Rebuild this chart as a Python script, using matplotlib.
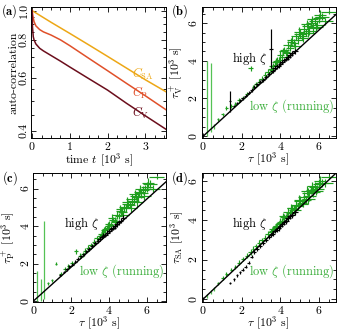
import matplotlib
matplotlib.use("Agg")
import matplotlib.pyplot as plt
from matplotlib.ticker import FixedLocator, MultipleLocator, NullFormatter, FixedFormatter

plt.rcParams['font.family'] = 'serif'
plt.rcParams['font.serif'] = ['cmr10']
plt.rcParams['mathtext.fontset'] = 'cm'
plt.rcParams['axes.formatter.use_mathtext'] = True
plt.rcParams['font.size'] = 8.5

# ---------------- panel (a): auto-correlation ----------------
t_SA = [0, 0.5, 1.0, 1.5, 2.0, 2.5, 3.0, 3.55]
C_SA = [1.0, 0.915, 0.84, 0.77, 0.705, 0.645, 0.59, 0.538]
t_P = [0, 0.02, 0.05, 0.1, 0.2, 0.3, 0.5, 0.75, 1.0, 1.5, 2.0, 2.5, 3.0, 3.55]
C_P = [1.0, 0.96, 0.92, 0.89, 0.865, 0.85, 0.83, 0.80, 0.765, 0.695, 0.632, 0.574, 0.522, 0.469]
t_V = [0, 0.01, 0.03, 0.05, 0.1, 0.2, 0.3, 0.5, 0.75, 1.0, 1.5, 2.0, 2.5, 3.0, 3.55]
C_V = [1.0, 0.88, 0.82, 0.80, 0.775, 0.75, 0.735, 0.71, 0.68, 0.65, 0.595, 0.545, 0.493, 0.448, 0.404]

# ---------------- panels (b)-(d): tau scatter ----------------
tau_g = [0.75, 1.0, 1.2, 1.45, 1.65, 1.85, 2.05, 2.25, 2.45, 2.6,
         2.75, 2.9, 3.05, 3.2, 3.35, 3.5, 3.6, 3.7, 3.8, 3.9,
         4.0, 4.1, 4.2, 4.3, 4.4, 4.5, 4.6, 4.7, 4.8, 4.9,
         5.0, 5.1, 5.2, 5.3, 5.4, 5.5, 5.6, 5.7, 5.8, 5.9,
         6.0, 6.15, 6.5,
         3.55, 3.75, 3.95, 4.15, 4.35, 4.55, 4.75, 4.95, 5.15, 5.35,
         5.45, 5.65, 5.85, 6.05, 6.3]
xerr_g = [0.05, 0.06, 0.06, 0.08, 0.08, 0.08, 0.1, 0.1, 0.12, 0.1,
          0.12, 0.12, 0.15, 0.12, 0.15, 0.15, 0.18, 0.15, 0.2, 0.18,
          0.2, 0.18, 0.22, 0.2, 0.25, 0.2, 0.25, 0.22, 0.28, 0.25,
          0.3, 0.25, 0.3, 0.28, 0.3, 0.32, 0.3, 0.35, 0.3, 0.35,
          0.3, 0.35, 0.4,
          0.15, 0.2, 0.18, 0.22, 0.25, 0.2, 0.3, 0.25, 0.3, 0.28,
          0.35, 0.3, 0.35, 0.3, 0.4]
yerr_g = [0.08, 0.1, 0.1, 0.1, 0.1, 0.12, 0.1, 0.12, 0.15, 0.12,
          0.12, 0.15, 0.12, 0.15, 0.15, 0.15, 0.18, 0.15, 0.18, 0.15,
          0.2, 0.18, 0.15, 0.2, 0.2, 0.18, 0.2, 0.22, 0.2, 0.2,
          0.22, 0.2, 0.25, 0.2, 0.22, 0.25, 0.2, 0.25, 0.22, 0.2,
          0.25, 0.2, 0.1,
          0.15, 0.18, 0.2, 0.18, 0.2, 0.22, 0.2, 0.25, 0.2, 0.22,
          0.25, 0.2, 0.22, 0.25, 0.2]
tauV_g = [0.9, 1.15, 1.5, 1.6, 1.7, 1.9, 2.05, 2.25, 3.6, 2.6,
          2.75, 2.9, 3.05, 3.25, 3.4, 3.55, 3.7, 3.8, 4.0, 4.05,
          4.3, 4.2, 4.6, 4.45, 4.85, 4.7, 5.1, 4.95, 5.3, 5.1,
          5.45, 5.3, 5.7, 5.5, 5.85, 5.6, 6.0, 5.75, 6.1, 5.9,
          6.25, 6.35, 6.6,
          3.5, 3.95, 3.95, 4.5, 4.4, 5.0, 4.8, 5.55, 5.2, 5.95,
          5.5, 6.2, 5.8, 6.45, 6.1]
tauP_g = [0.95, 1.1, 2.0, 1.45, 1.7, 1.85, 2.05, 2.65, 2.4, 2.5,
          2.7, 2.85, 3.0, 3.15, 3.35, 3.45, 3.6, 3.7, 3.85, 3.9,
          4.1, 4.05, 4.35, 4.3, 4.6, 4.55, 4.8, 4.75, 5.0, 4.95,
          5.2, 5.15, 5.45, 5.35, 5.6, 5.55, 5.8, 5.75, 5.95, 6.0,
          6.1, 6.25, 6.6,
          3.5, 3.8, 4.0, 4.45, 4.2, 4.9, 4.6, 5.3, 4.95, 5.7,
          5.3, 6.0, 5.6, 6.3, 6.0]
tauSA_g = [0.8, 1.05, 1.25, 1.5, 1.65, 1.85, 2.05, 2.2, 2.4, 2.55,
           2.7, 2.85, 3.0, 3.1, 3.3, 3.4, 3.55, 3.6, 3.7, 3.8,
           3.9, 3.95, 4.15, 4.1, 4.4, 4.35, 4.6, 4.55, 4.8, 4.7,
           5.0, 4.9, 5.2, 5.05, 5.4, 5.25, 5.55, 5.45, 5.7, 5.6,
           5.85, 5.9, 6.2,
           3.45, 3.65, 3.85, 4.2, 4.2, 4.6, 4.5, 5.05, 4.85, 5.5,
           5.1, 5.75, 5.5, 6.0, 5.9]

# low-tau running samples (large upper uncertainty in some estimators)
tau_g_low = [0.17, 0.42, 0.55]
tauV_g_low = [0.1, 0.3, 0.5]
tauV_g_low_up = [3.9, 3.6, 0.15]
tauP_g_low = [0.1, 0.1, 0.2]
tauP_g_low_up = [1.5, 1.1, 4.1]
tauSA_g_low = [0.15, 0.35, 0.5]
tauSA_g_low_up = [0.1, 0.1, 0.1]

tau_k = [1.4, 1.6, 1.75, 1.9, 2.05, 2.2, 2.35, 2.5, 2.65, 2.8,
         2.95, 3.1, 3.25, 3.4, 3.5, 3.6, 3.7, 3.8, 3.9, 4.0,
         4.1, 4.2, 4.3, 4.4, 4.5, 4.6, 4.75]
xerr_k = [0.06, 0.06, 0.07, 0.07, 0.08, 0.08, 0.08, 0.09, 0.09, 0.1,
          0.1, 0.1, 0.1, 0.12, 0.12, 0.12, 0.12, 0.12, 0.13, 0.13,
          0.13, 0.14, 0.14, 0.14, 0.15, 0.15, 0.15]
yerr_k = [0.06, 0.06, 0.07, 0.07, 0.07, 0.08, 0.08, 0.08, 0.09, 0.09,
          0.1, 0.1, 0.1, 0.1, 0.1, 0.11, 0.11, 0.11, 0.12, 0.12,
          0.12, 0.12, 0.13, 0.13, 0.13, 0.14, 0.14]
tauV_k = [1.85, 1.6, 1.75, 1.9, 2.0, 2.15, 2.3, 2.45, 2.6, 2.75,
          2.9, 3.0, 3.15, 3.3, 4.65, 3.45, 3.6, 3.7, 3.75, 3.85,
          3.95, 4.05, 4.1, 4.2, 4.3, 4.4, 4.5]
tauV_k_yerr = [0.55, 0.06, 0.07, 0.07, 0.07, 0.08, 0.08, 0.08, 0.09, 0.09,
               0.1, 0.1, 0.1, 0.1, 1.05, 0.11, 0.11, 0.11, 0.12, 0.12,
               0.12, 0.12, 0.13, 0.13, 0.13, 0.14, 0.14]
tauP_k = [1.4, 1.55, 1.7, 1.85, 1.95, 2.1, 2.25, 2.4, 2.5, 2.65,
          2.8, 2.95, 3.1, 3.2, 3.3, 3.4, 3.5, 3.55, 3.65, 3.75,
          3.85, 3.9, 4.0, 4.1, 4.2, 4.3, 4.45]
tauSA_k = [0.8, 1.0, 1.2, 1.35, 1.5, 1.65, 1.85, 2.15, 2.4, 2.55,
           2.7, 2.85, 3.0, 3.15, 3.25, 3.3, 3.45, 3.5, 3.6, 3.7,
           3.8, 3.9, 3.95, 4.1, 4.2, 4.25, 4.4]

ref_slope = {'b': 0.94, 'c': 0.91, 'd': 0.93}

col_SA = '#EDA716'
col_P = '#E0502A'
col_V = '#6B0E1C'
col_g = '#1E9E1E'
col_g_light = '#55C255'
col_g_text = '#3AAE3A'

W, H = 341, 332
fig = plt.figure(figsize=(W / 100, H / 100), dpi=100)

def box(l, r, t, b):
    return [l / W, 1 - b / H, (r - l) / W, (b - t) / H]

ax_a = fig.add_axes(box(31, 166, 7, 138))
ax_b = fig.add_axes(box(201.5, 335.5, 7, 138))
ax_c = fig.add_axes(box(33, 166, 173, 302))
ax_d = fig.add_axes(box(201.5, 335.5, 173, 302))

def style(ax):
    ax.tick_params(which='both', direction='in', top=True, right=True, width=0.6)
    ax.tick_params(which='major', length=3.5)
    ax.tick_params(which='minor', length=2)
    ax.tick_params(axis='y', labelrotation=90)
    for lab in ax.get_yticklabels():
        lab.set_va('center')
    for s in ax.spines.values():
        s.set_linewidth(0.7)
    ax.tick_params(axis='x', pad=1.5)
    ax.tick_params(axis='y', pad=1.5)

# (a)
ax_a.plot(t_SA, C_SA, color=col_SA, lw=1.1)
ax_a.plot(t_P, C_P, color=col_P, lw=1.1)
ax_a.plot(t_V, C_V, color=col_V, lw=1.1)
ax_a.set_yscale('log')
ax_a.set_xlim(-0.03, 3.55)
ax_a.set_ylim(0.378, 1.028)
ax_a.yaxis.set_major_locator(FixedLocator([0.4, 0.6, 0.8, 1.0]))
ax_a.yaxis.set_minor_locator(FixedLocator([0.45, 0.5, 0.55, 0.65, 0.7, 0.75, 0.85, 0.9, 0.95]))
ax_a.yaxis.set_major_formatter(FixedFormatter(['0.4', '0.6', '0.8', '1.0']))
ax_a.yaxis.set_minor_formatter(NullFormatter())
ax_a.xaxis.set_major_locator(MultipleLocator(1))
ax_a.xaxis.set_minor_locator(MultipleLocator(0.25))
ax_a.set_xlabel(r'time $t$ [$10^3$ s]', labelpad=-0.5)
ax_a.set_ylabel('auto-correlation', labelpad=1)
style(ax_a)
ax_a.text(0.745, 0.455, r'$C_\mathrm{SA}$', color=col_SA, transform=ax_a.transAxes, fontsize=8.8)
ax_a.text(0.745, 0.31, r'$C_\mathrm{P}$', color=col_P, transform=ax_a.transAxes, fontsize=8.8)
ax_a.text(0.745, 0.16, r'$C_\mathrm{V}$', color=col_V, transform=ax_a.transAxes, fontsize=8.8)

def scatter_panel(ax, yg, ygl, ygl_up, yk, yk_err, slope, ylim, ylabel):
    ax.errorbar(tau_g_low, ygl, yerr=[[min(v, 0.1) for v in ygl], ygl_up], fmt='none',
                ecolor=col_g_light, elinewidth=0.9, capsize=0, zorder=2)
    ax.errorbar(tau_g, yg, xerr=xerr_g, yerr=yerr_g, fmt='none',
                ecolor=col_g, elinewidth=0.85, capsize=0, zorder=3)
    ax.errorbar(tau_k, yk, xerr=xerr_k, yerr=yk_err, fmt='none',
                ecolor='black', elinewidth=0.85, capsize=0, zorder=4)
    ax.plot([0, 7.2], [0, 7.2 * slope], color='black', lw=1.0, zorder=5)
    ax.set_xlim(-0.09, 6.85)
    ax.set_ylim(*ylim)
    ax.xaxis.set_major_locator(MultipleLocator(2))
    ax.xaxis.set_minor_locator(MultipleLocator(0.5))
    ax.yaxis.set_major_locator(MultipleLocator(2))
    ax.yaxis.set_minor_locator(MultipleLocator(0.5))
    ax.set_xlabel(r'$\tau$ [$10^3$ s]', labelpad=-1)
    ax.set_ylabel(ylabel, labelpad=1)
    style(ax)
    ax.text(0.23, 0.58, r'high $\zeta$', color='black', transform=ax.transAxes, fontsize=9)
    ax.text(0.99, 0.215, r'low $\zeta$ (running)', color=col_g_text, transform=ax.transAxes,
            fontsize=9, ha='right')

scatter_panel(ax_b, tauV_g, tauV_g_low, tauV_g_low_up, tauV_k, tauV_k_yerr,
              ref_slope['b'], (-0.1, 6.86), r'$\tau_\mathrm{V}^+$ [$10^3$ s]')
scatter_panel(ax_c, tauP_g, tauP_g_low, tauP_g_low_up, tauP_k, yerr_k,
              ref_slope['c'], (-0.05, 6.84), r'$\tau_\mathrm{P}^+$ [$10^3$ s]')
ax_c.set_xlim(-0.02, 7.0)
scatter_panel(ax_d, tauSA_g, tauSA_g_low, tauSA_g_low_up, tauSA_k, yerr_k,
              ref_slope['d'], (-0.15, 6.4), r'$\tau_\mathrm{SA}$ [$10^3$ s]')

fig.text(1 / W, 1 - 11 / H, r'$\mathbf{(a)}$', fontsize=9, va='center')
fig.text(171 / W, 1 - 11 / H, r'$\mathbf{(b)}$', fontsize=9, va='center')
fig.text(2 / W, 1 - 178 / H, r'$\mathbf{(c)}$', fontsize=9, va='center')
fig.text(171 / W, 1 - 178 / H, r'$\mathbf{(d)}$', fontsize=9, va='center')

fig.savefig('out.png', dpi=100)
